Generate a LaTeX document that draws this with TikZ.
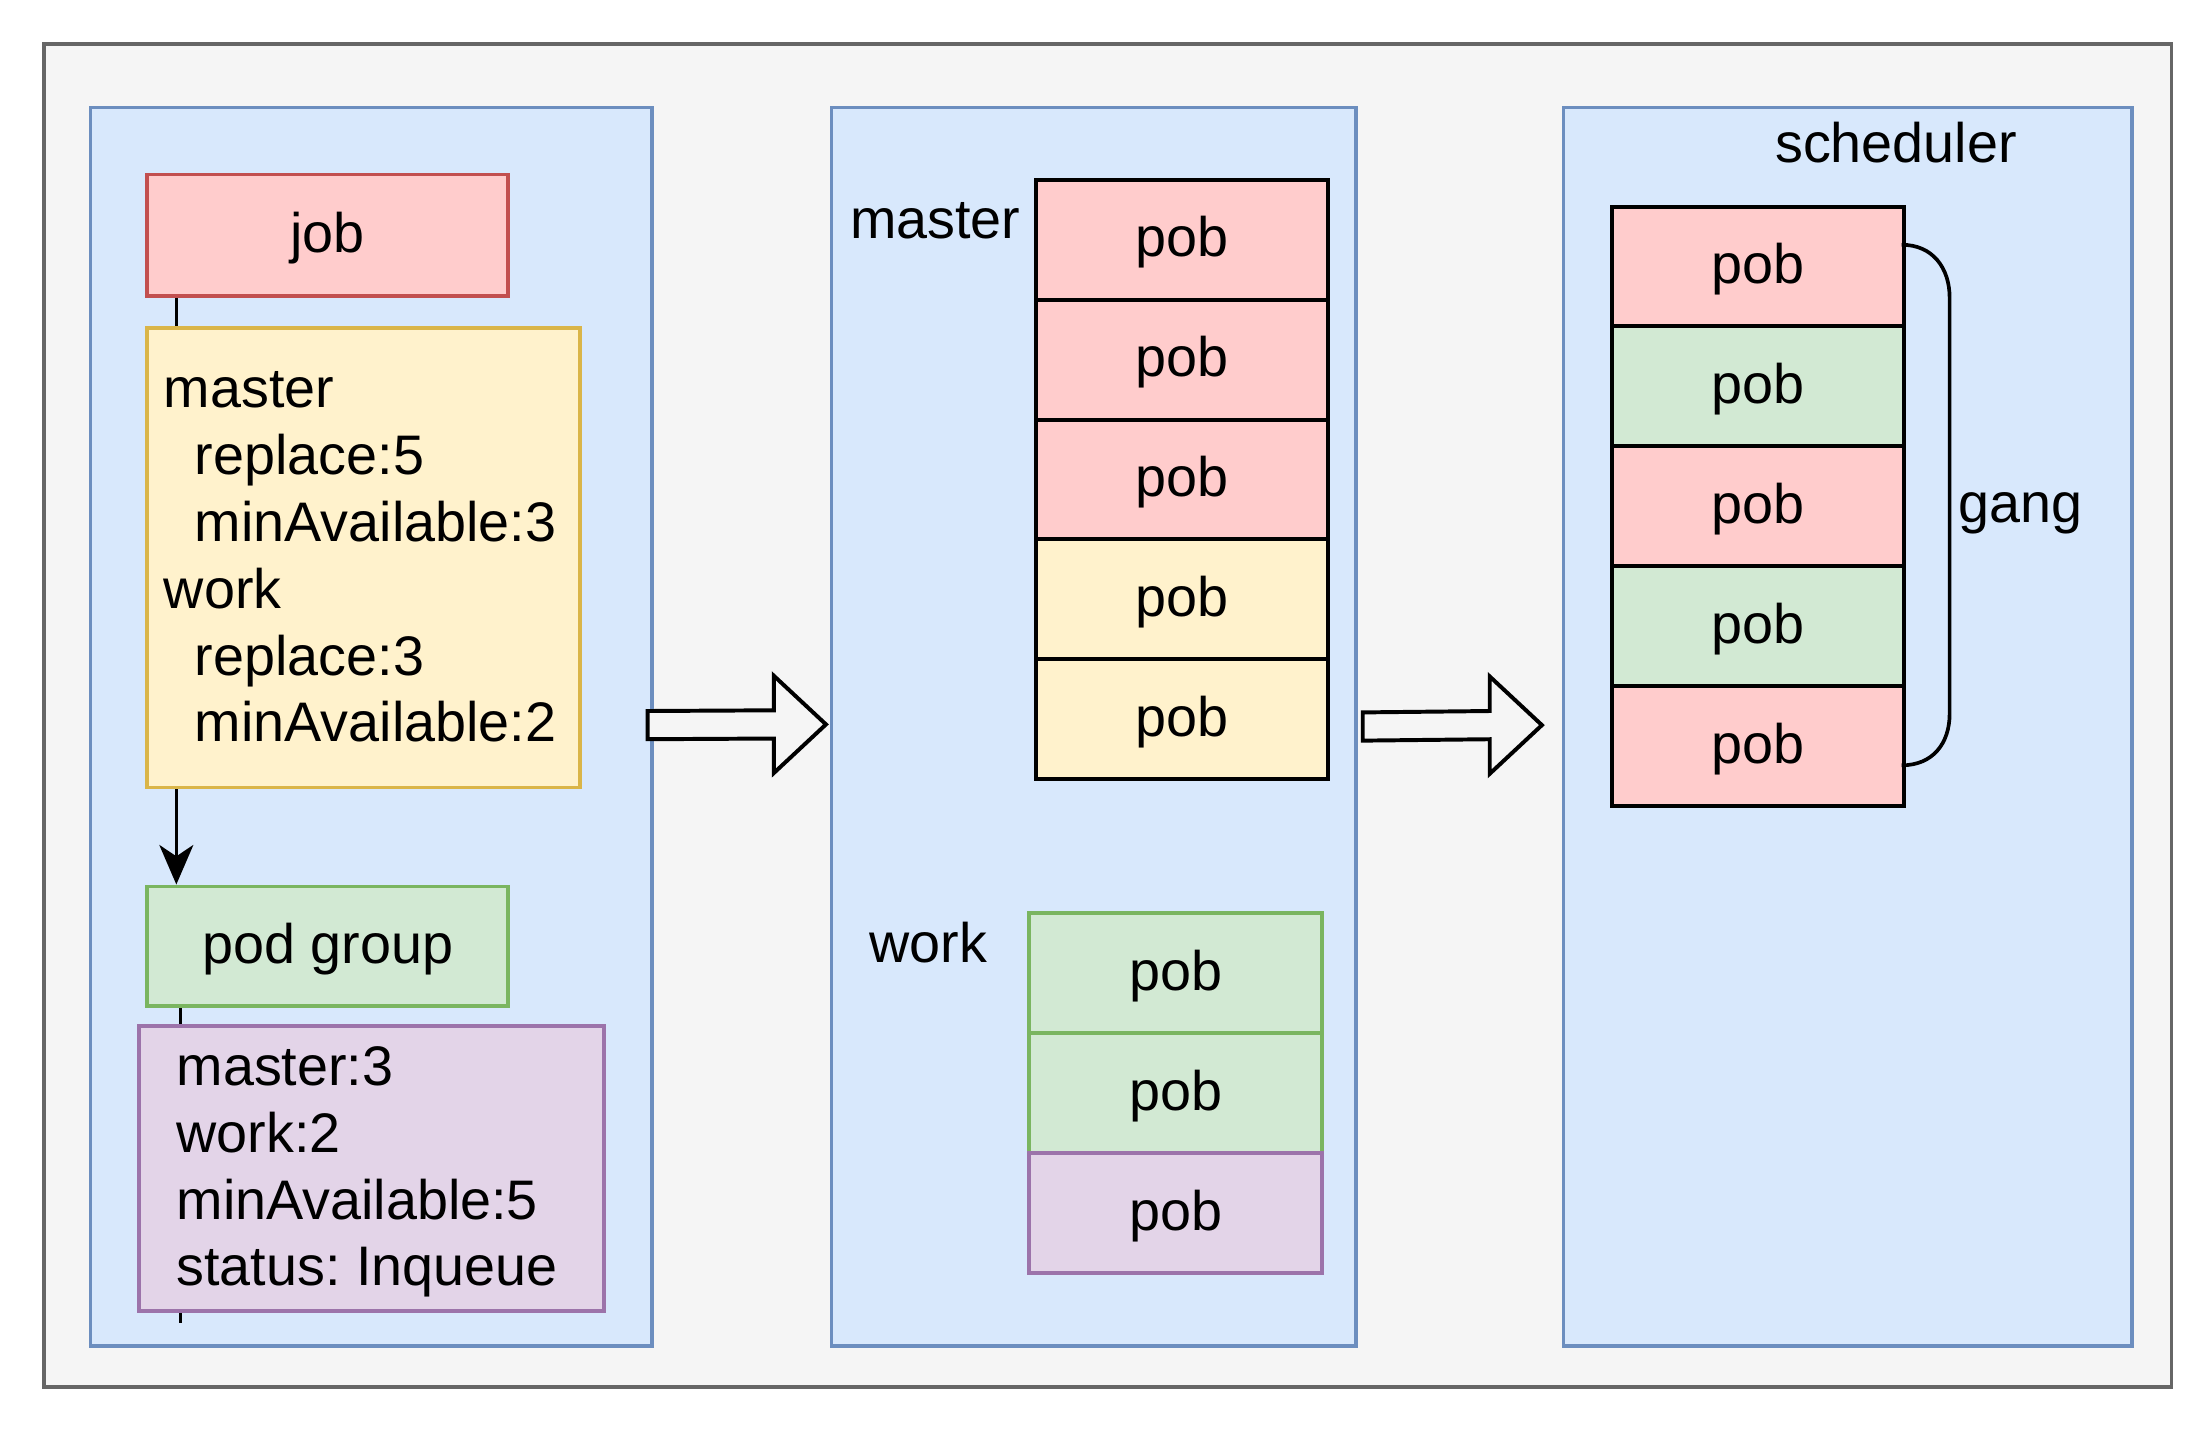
\documentclass[tikz,border=0pt]{standalone}
\usepackage{fontspec}
\setmainfont{Liberation Sans}
\usetikzlibrary{arrows.meta,calc}
\frenchspacing
\definecolor{bgfill}{HTML}{F5F5F5}
\definecolor{bgline}{HTML}{666666}
\definecolor{bluefill}{HTML}{D8E8FC}
\definecolor{blueline}{HTML}{6C8EBF}
\definecolor{redfill}{HTML}{FFCCCC}
\definecolor{redline}{HTML}{C24F4F}
\definecolor{yelfill}{HTML}{FFF2CC}
\definecolor{yelline}{HTML}{DAB548}
\definecolor{grnfill}{HTML}{D2E9D3}
\definecolor{grnline}{HTML}{7AB560}
\definecolor{purfill}{HTML}{E3D4E8}
\definecolor{purline}{HTML}{9C73AA}
\begin{document}
\begin{tikzpicture}[x=1pt,y=-1pt,
  fnt/.style={font=\fontsize{39.5pt}{47.4pt}\selectfont\frenchspacing},
  txt/.style={fnt, text height=35.7pt, text depth=11.4pt, inner sep=0pt},
  mtxt/.style={fnt, align=left, inner sep=0pt, anchor=west},
  box/.style={txt, line width=2.6pt, anchor=north west},
  panel/.style={draw=blueline, fill=bluefill, line width=2.4pt, anchor=north west, inner sep=0pt, minimum height=878pt},
  redbox/.style={box, draw=redline, fill=redfill},
  yelbox/.style={box, draw=yelline, fill=yelfill},
  grnbox/.style={box, draw=grnline, fill=grnfill},
  purbox/.style={box, draw=purline, fill=purfill},
  cell/.style={box, line width=2.8pt, minimum width=207pt, minimum height=85pt},
  rcell/.style={cell, draw=black, fill=redfill},
  ycell/.style={cell, draw=black, fill=yelfill},
  gcell/.style={cell, draw=black, fill=grnfill},
  wgcell/.style={cell, line width=2.6pt, draw=grnline, fill=grnfill, minimum width=208pt},
  wpcell/.style={cell, line width=2.6pt, draw=purline, fill=purfill, minimum width=208pt},
  conn/.style={draw=black, line width=2.6pt},
  barrow/.style={draw=black, fill=bgfill, line width=2.8pt, line join=miter}
]
\useasboundingbox (0,0) rectangle (1568,1015);
% outer frame
\node[draw=bgline, fill=bgfill, line width=2.6pt, anchor=north west, inner sep=0pt,
      minimum width=1508pt, minimum height=952pt] (frame) at (30,30) {};
% panels
\node[panel, minimum width=398pt] (p1) at (63,75) {};
\node[panel, minimum width=372pt] (p2) at (588,75) {};
\node[panel, minimum width=403pt] (p3) at (1107,75) {};

% left panel
\node[redbox, minimum width=256pt, minimum height=86pt] (job) at (103,122.5) {job};
\node[grnbox, minimum width=256pt, minimum height=85pt] (pg) at (103,627) {pod group};
\coordinate (pgtail) at (128,938);
\draw[conn, -{Stealth[length=28pt, width=24pt, inset=8pt]}] ([xshift=22pt]job.south west) -- ([xshift=22pt]pg.north west);
\draw[conn] ([xshift=25pt]pg.south west) -- (pgtail);
\node[yelbox, minimum width=307pt, minimum height=326pt] (spec) at (103,231) {};
\node[mtxt] (spectxt) at ([xshift=13pt]spec.west)
  {\rule{0pt}{35.7pt}master\\\hspace*{22pt}replace:5\\\hspace*{22pt}minAvailable:3\\work\\\hspace*{22pt}replace:3\\\hspace*{22pt}minAvailable:2\rule[-11.4pt]{0pt}{11.4pt}};
\node[purbox, minimum width=330pt, minimum height=202pt] (pgspec) at (97,726) {};
\node[mtxt] (pgspectxt) at ([xshift=28pt]pgspec.west)
  {\rule{0pt}{35.7pt}master:3\\work:2\\minAvailable:5\\status: Inqueue\rule[-11.4pt]{0pt}{11.4pt}};

% middle panel
\node[txt] (lmaster) at (663,157) {master};
\node[txt] (lwork) at (658,670) {work};
\node[rcell] (m1) at (733,126) {pob};
\node[rcell] (m2) at (733,211) {pob};
\node[rcell] (m3) at (733,296) {pob};
\node[ycell] (m4) at (733,381) {pob};
\node[ycell] (m5) at (733,466) {pob};
\node[wgcell] (w1) at (728,646) {pob};
\node[wgcell] (w2) at (728,731) {pob};
\node[wpcell] (w3) at (728,816) {pob};

% right panel
\node[txt] (lsched) at (1344,103) {scheduler};
\node[rcell] (s1) at (1141,145) {pob};
\node[gcell] (s2) at (1141,230) {pob};
\node[rcell] (s3) at (1141,315) {pob};
\node[gcell] (s4) at (1141,400) {pob};
\node[rcell] (s5) at (1141,485) {pob};
\coordinate (g1) at (1348,173.5);
\coordinate (g2) at (1348,542.5);
\draw[conn] (g1) .. controls (1370,173.5) and (1382,190) .. (1382,211)
  -- (1382,506) .. controls (1382,527) and (1370,542.5) .. (g2);
\node[txt] (lgang) at (1432,358) {gang};

% block arrows
\coordinate (a1s) at (459,514);
\coordinate (a1e) at (585.5,513.5);
\draw[barrow] ($(a1s)+(0,-10)$) -- ($(a1e)+(-37,-10)$) -- ($(a1e)+(-37,-34.5)$) -- (a1e)
  -- ($(a1e)+(-37,34.5)$) -- ($(a1e)+(-37,10)$) -- ($(a1s)+(0,10)$) -- cycle;
\coordinate (a2s) at (966,515);
\coordinate (a2e) at (1093,514);
\draw[barrow] ($(a2s)+(0,-10)$) -- ($(a2e)+(-37,-10)$) -- ($(a2e)+(-37,-34.5)$) -- (a2e)
  -- ($(a2e)+(-37,34.5)$) -- ($(a2e)+(-37,10)$) -- ($(a2s)+(0,10)$) -- cycle;
\end{tikzpicture}
\end{document}
